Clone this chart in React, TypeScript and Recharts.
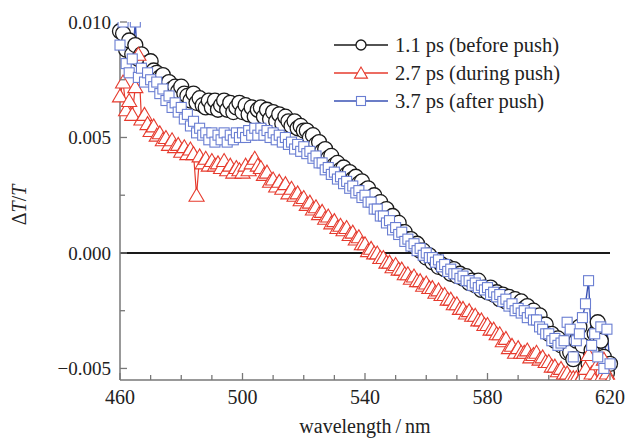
import { LineChart, Line, XAxis, YAxis, ReferenceLine } from "recharts";

const FONT = '"Liberation Serif", "Times New Roman", Times, serif';
const AXIS = "#777";

// wavelength grid, 1 nm steps from 460 to 620
const WL_START = 460;
const X_TICKS = [460, 470, 480, 490, 500, 510, 520, 530, 540, 550, 560, 570, 580, 590, 600, 610, 620];
const Y_TICKS = [-0.005, -0.0025, 0, 0.0025, 0.005, 0.0075, 0.01];

// ΔT/T in units of 1e-4
const BEFORE = [
  96, 95, 88, 92, 86, 90, 84, 86, 82, 80,
  83, 79, 78, 76, 77, 73, 74, 71, 72, 70,
  72, 69, 68, 66, 69, 65, 67, 64, 63, 66,
  63, 66, 62, 64, 66, 62, 65, 61, 63, 65,
  61, 64, 60, 63, 59, 62, 63, 59, 62, 58,
  61, 57, 60, 56, 59, 57, 55, 57, 54, 55,
  53, 53, 50, 51, 47, 48, 44, 45, 41, 42,
  38, 39, 36, 37, 34, 35, 32, 33, 30, 31,
  27, 28, 24, 25, 21, 22, 18, 19, 15, 16,
  12, 13, 9, 9, 6, 6, 3, 4, 1, 1,
  -2, -1, -4, -3, -6, -5, -7, -6, -9, -7,
  -10, -9, -11, -10, -13, -12, -14, -12, -16, -15,
  -17, -15, -18, -17, -20, -18, -21, -19, -22, -20,
  -23, -21, -24, -23, -26, -25, -28, -27, -31, -31,
  -35, -35, -38, -37, -40, -39, -43, -43, -46, -38,
  -32, -40, -50, -48, -42, -35, -30, -38, -45, -52,
  -48,
];

const DURING = [
  68, 74, 62, 66, 60, 72, 86, 58, 60, 56,
  53, 55, 51, 52, 49, 50, 47, 49, 46, 47,
  44, 46, 43, 45, 43, 25, 42, 39, 41, 38,
  40, 38, 39, 37, 40, 36, 38, 35, 37, 36,
  35, 38, 36, 39, 41, 38, 37, 34, 35, 31,
  32, 29, 31, 28, 30, 26, 28, 25, 26, 23,
  24, 21, 22, 19, 20, 17, 18, 15, 16, 13,
  14, 11, 12, 10, 11, 8, 9, 6, 7, 4,
  4, 1, 2, 0, 0, -2, -2, -4, -4, -6,
  -5, -7, -7, -9, -9, -11, -10, -12, -12, -14,
  -13, -15, -15, -17, -16, -18, -18, -20, -20, -22,
  -22, -24, -24, -26, -25, -27, -27, -29, -29, -31,
  -31, -33, -33, -35, -35, -38, -37, -41, -40, -43,
  -41, -43, -43, -42, -45, -44, -43, -46, -45, -47,
  -47, -49, -49, -51, -50, -52, -52, -54, -54, -54,
  -55, -53, -50, -44, -52, -55, -48, -54, -46, -52,
  -55,
];

const AFTER = [
  90, 100, 82, 78, 84, 100, 76, 80, 74, 78,
  75, 72, 74, 69, 71, 66, 68, 63, 65, 61,
  63, 58, 60, 55, 57, 52, 54, 51, 52, 49,
  52, 48, 51, 49, 52, 48, 51, 49, 52, 50,
  52, 50, 53, 51, 54, 51, 54, 51, 53, 50,
  52, 49, 51, 48, 50, 47, 48, 45, 47, 44,
  46, 43, 44, 41, 42, 39, 39, 36, 37, 34,
  35, 32, 33, 30, 31, 28, 29, 26, 27, 24,
  25, 22, 22, 19, 19, 16, 16, 13, 14, 10,
  11, 8, 9, 5, 6, 3, 4, 1, 2, -1,
  0, -2, -2, -4, -3, -6, -5, -8, -7, -9,
  -9, -11, -10, -12, -12, -14, -13, -15, -14, -16,
  -15, -18, -17, -19, -18, -21, -20, -23, -22, -25,
  -24, -26, -25, -28, -26, -29, -29, -32, -33, -35,
  -35, -38, -37, -40, -39, -38, -30, -33, -45, -38,
  -35, -28, -22, -12, -40, -35, -45, -32, -50, -33,
  -48,
];

const SCALE = 1e-4;

const data = BEFORE.map((v, i) => ({
  wl: WL_START + i,
  before: v * SCALE,
  during: DURING[i] * SCALE,
  after: AFTER[i] * SCALE,
}));

const BLACK = "#1a1a1a";
const RED = "#e63b2e";
const BLUE_LINE = "#3a52b4";
const BLUE_MARK = "#6a7ed2";

const circle = (cx: number, cy: number, r: number, key?: any) => (
  <circle key={key} cx={cx} cy={cy} r={r} fill="#fff" stroke={BLACK} strokeWidth={1.3} />
);
const triangle = (cx: number, cy: number, s: number, key?: any) => (
  <polygon
    key={key}
    points={`${cx},${cy - s} ${cx - s * 1.08},${cy + s * 0.85} ${cx + s * 1.08},${cy + s * 0.85}`}
    fill="#fff"
    stroke={RED}
    strokeWidth={1.1}
  />
);
const square = (cx: number, cy: number, h: number, key?: any) => (
  <rect key={key} x={cx - h} y={cy - h} width={h * 2} height={h * 2} fill="#fff" stroke={BLUE_MARK} strokeWidth={1.1} />
);

const SERIES = [
  { key: "before", name: "1.1 ps (before push)", line: BLACK, mark: (x: number, y: number) => circle(x, y, 5) },
  { key: "during", name: "2.7 ps (during push)", line: RED, mark: (x: number, y: number) => triangle(x, y, 6) },
  { key: "after", name: "3.7 ps (after push)", line: BLUE_LINE, mark: (x: number, y: number) => square(x, y, 4.5) },
];

const XTick = (props: any) => {
  const { x, y, payload } = props;
  const major = (payload.value - 460) % 40 === 0;
  return (
    <g>
      <line x1={x} x2={x} y1={y} y2={y - (major ? 7 : 5)} stroke={AXIS} strokeWidth={1.3} />
      {major && (
        <text x={x} y={y + 24} textAnchor="middle" style={{ fontFamily: FONT }} fontSize={20} fill="#222">
          {payload.value}
        </text>
      )}
    </g>
  );
};

const YTick = (props: any) => {
  const { x, y, payload } = props;
  const v = payload.value;
  const major = Math.abs(Math.round(v / 0.005) * 0.005 - v) < 1e-9;
  const label = v < -1e-9 ? "\u2212" + Math.abs(v).toFixed(3) : Math.abs(v).toFixed(3);
  return (
    <g>
      <line x1={x} x2={x + (major ? 7 : 5)} y1={y} y2={y} stroke={AXIS} strokeWidth={1.3} />
      {major && (
        <text x={x - 9} y={y + 7} textAnchor="end" style={{ fontFamily: FONT }} fontSize={19} fill="#222">
          {label}
        </text>
      )}
    </g>
  );
};

const ChartLegend = () => (
  <div
    style={{
      position: "absolute",
      left: 333,
      top: 31,
      fontFamily: FONT,
      fontSize: 20.5,
      color: "#222",
      lineHeight: "28px",
    }}
  >
    {SERIES.map((s) => (
      <div key={s.key} style={{ display: "flex", alignItems: "center", height: 28 }}>
        <svg width={56} height={28}>
          <line x1={1} x2={55} y1={14} y2={14} stroke={s.line} strokeWidth={1.5} />
          {s.mark(28, 14)}
        </svg>
        <span style={{ marginLeft: 6, whiteSpace: "nowrap" }}>{s.name}</span>
      </div>
    ))}
  </div>
);

export default function App() {
  return (
    <div style={{ position: "absolute", left: 0, top: 0, width: 628, height: 438, background: "#fff" }}>
      <LineChart width={628} height={438} data={data} margin={{ top: 22, right: 18, left: 0, bottom: 0 }}>
        <XAxis
          dataKey="wl"
          type="number"
          domain={[460, 620]}
          ticks={X_TICKS}
          interval={0}
          tickSize={0}
          tickMargin={0}
          tick={<XTick />}
          tickLine={false}
          height={58}
          stroke={AXIS}
          strokeWidth={1.5}
          label={{
            content: (p: any) => (
              <text
                x={p.viewBox.x + p.viewBox.width / 2}
                y={p.viewBox.y + 53}
                textAnchor="middle"
                style={{ fontFamily: FONT }}
                fontSize={20}
                fill="#222"
              >
                {"wavelength\u2009/\u2009nm"}
              </text>
            ),
          }}
        />
        <YAxis
          type="number"
          domain={[-0.0055, 0.01]}
          allowDataOverflow
          ticks={Y_TICKS}
          interval={0}
          tickSize={0}
          tickMargin={0}
          tick={<YTick />}
          tickLine={false}
          width={120}
          stroke={AXIS}
          strokeWidth={1.5}
          label={{
            content: (p: any) => {
              const cx = p.viewBox.x + 26;
              const cy = p.viewBox.y + p.viewBox.height / 2 + 4;
              return (
                <text
                  x={cx}
                  y={cy}
                  transform={`rotate(-90 ${cx} ${cy})`}
                  textAnchor="middle"
                  style={{ fontFamily: FONT }}
                  fontSize={20}
                  fill="#222"
                >
                  <tspan>Δ</tspan>
                  <tspan fontStyle="italic">T</tspan>
                  <tspan>/</tspan>
                  <tspan fontStyle="italic">T</tspan>
                </text>
              );
            },
          }}
        />
        <ReferenceLine y={0} stroke={BLACK} strokeWidth={2} />
        <Line
          dataKey="before"
          stroke={BLACK}
          strokeWidth={1.2}
          isAnimationActive={false}
          dot={(p: any) => circle(p.cx, p.cy, 7.5, p.index)}
          activeDot={false}
        />
        <Line
          dataKey="during"
          stroke={RED}
          strokeWidth={1.2}
          isAnimationActive={false}
          dot={(p: any) => triangle(p.cx, p.cy, 7, p.index)}
          activeDot={false}
        />
        <Line
          dataKey="after"
          stroke={BLUE_LINE}
          strokeWidth={1.4}
          isAnimationActive={false}
          dot={(p: any) => square(p.cx, p.cy, 5, p.index)}
          activeDot={false}
        />
      </LineChart>
      <ChartLegend />
    </div>
  );
}
